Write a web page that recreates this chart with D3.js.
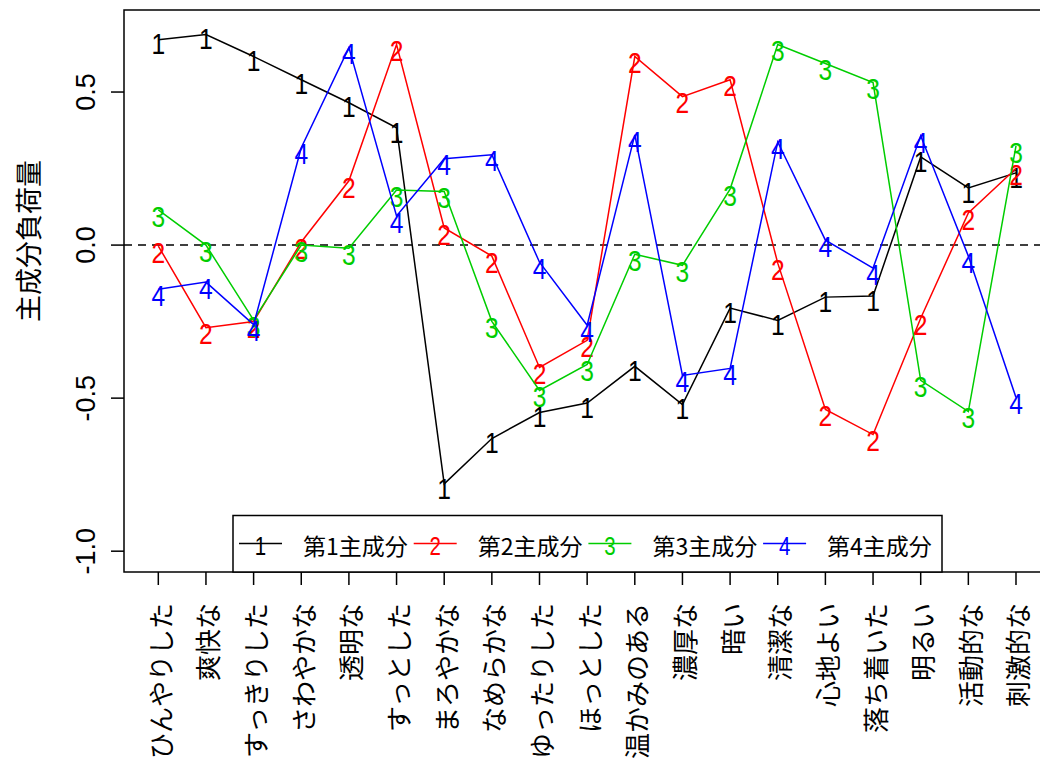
<!DOCTYPE html>
<html><head><meta charset="utf-8">
<script src="https://cdn.jsdelivr.net/npm/d3@7"></script>
<style>html,body{margin:0;padding:0;background:#fff;}svg{display:block;}</style>
</head><body>
<script>
const categories = ["ひんやりした","爽快な","すっきりした","さわやかな","透明な","すっとした","まろやかな","なめらかな","ゆったりした","ほっとした","温かみのある","濃厚な","暗い","清潔な","心地よい","落ち着いた","明るい","活動的な","刺激的な"];
const pc1 = [0.671,0.688,0.616,0.540,0.465,0.383,-0.780,-0.632,-0.547,-0.516,-0.396,-0.521,-0.206,-0.246,-0.170,-0.166,0.288,0.187,0.236];
const pc2 = [-0.003,-0.27,-0.25,0.01,0.21,0.655,0.056,-0.036,-0.40,-0.311,0.616,0.485,0.540,-0.059,-0.537,-0.619,-0.239,0.105,0.25];
const pc3 = [0.115,0.0,-0.245,0.0,-0.01,0.18,0.175,-0.249,-0.475,-0.39,-0.03,-0.066,0.183,0.655,0.593,0.531,-0.442,-0.544,0.324];
const pc4 = [-0.144,-0.121,-0.26,0.318,0.645,0.095,0.282,0.295,-0.056,-0.262,0.36,-0.426,-0.403,0.337,0.016,-0.075,0.357,-0.036,-0.498];
const seriesNames = ["第1主成分","第2主成分","第3主成分","第4主成分"];
const seriesSymbols = ["1","2","3","4"];
const seriesColors = ["#000000","#FF0000","#00CD00","#0000FF"];
const yTicks = [-1.0,-0.5,0.0,0.5];
const yTickLabels = ["-1.0","-0.5","0.0","0.5"];
const yTitle = "主成分負荷量";

(function () {
const W = 1040, H = 762;
const pL = 124, pT = 10, pB = 572, pR = 1050.3;
const svg = d3.select("body").append("svg").attr("width", W).attr("height", H);

const n = categories.length;
const xPad = (n - 1) * 0.04;
const x = d3.scaleLinear().domain([1 - xPad, n + xPad]).range([pL, pR]);
const yMin = -1.0, yMax = 0.7, yPad = (yMax - yMin) * 0.04;
const y = d3.scaleLinear().domain([yMin - yPad, yMax + yPad]).range([pB, pT]);

const CJK = "'Noto Sans CJK JP', 'Noto Sans CJK SC', sans-serif";
const LAT = "'Liberation Sans', Arial, sans-serif";

svg.append("line").attr("x1", pL).attr("x2", pR).attr("y1", y(0)).attr("y2", y(0))
  .attr("stroke", "#000").attr("stroke-width", 1.5).attr("stroke-dasharray", "8,6");

const allSeries = [pc1, pc2, pc3, pc4];
const line = d3.line().x((d, i) => x(i + 1)).y(d => y(d));
allSeries.forEach((vals, s) => {
  const g = svg.append("g");
  g.append("path").attr("d", line(vals)).attr("fill", "none")
    .attr("stroke", seriesColors[s]).attr("stroke-width", 1.5);
  const off = s === 0 ? 14.7 : 16.7;
  g.selectAll("text").data(vals).enter().append("text")
    .attr("transform", (d, i) => `translate(${x(i + 1)},${y(d) + off}) scale(0.82,1)`)
    .attr("text-anchor", "middle")
    .attr("font-family", LAT).attr("font-size", 30)
    .attr("fill", seriesColors[s]).text(seriesSymbols[s]);
});

svg.append("rect").attr("x", pL).attr("y", pT).attr("width", pR - pL).attr("height", pB - pT)
  .attr("fill", "none").attr("stroke", "#000").attr("stroke-width", 1.5);

const xa = svg.append("g");
categories.forEach((c, i) => {
  xa.append("line").attr("x1", x(i + 1)).attr("x2", x(i + 1)).attr("y1", pB).attr("y2", pB + 13)
    .attr("stroke", "#000").attr("stroke-width", 1.5);
  xa.append("text").attr("transform", `translate(${x(i + 1) + 1},603) rotate(-90)`)
    .attr("text-anchor", "end").attr("dominant-baseline", "central")
    .attr("font-family", CJK).attr("font-size", 26).attr("fill", "#000").text(c);
});

const ya = svg.append("g");
yTicks.forEach((t, i) => {
  ya.append("line").attr("x1", pL).attr("x2", pL - 13).attr("y1", y(t)).attr("y2", y(t))
    .attr("stroke", "#000").attr("stroke-width", 1.5);
  ya.append("text").attr("transform", `translate(86,${y(t)}) rotate(-90)`)
    .attr("text-anchor", "middle").attr("dominant-baseline", "central")
    .attr("font-family", LAT).attr("font-size", 27).attr("fill", "#000").text(yTickLabels[i]);
});
svg.append("text").attr("transform", `translate(27,${y(0) - 4}) rotate(-90)`)
  .attr("text-anchor", "middle").attr("dominant-baseline", "central")
  .attr("font-family", CJK).attr("font-size", 27).attr("fill", "#000").text(yTitle);

const lg = svg.append("g");
lg.append("rect").attr("x", 233).attr("y", 515.5).attr("width", 709).attr("height", pB - 515.5)
  .attr("fill", "#fff").attr("stroke", "#000").attr("stroke-width", 1.5);
seriesNames.forEach((name, s) => {
  const x0 = 239 + s * 174.7;
  lg.append("line").attr("x1", x0).attr("x2", x0 + 43).attr("y1", 543.5).attr("y2", 543.5)
    .attr("stroke", seriesColors[s]).attr("stroke-width", 1.5);
  lg.append("text").attr("transform", `translate(${x0 + 21.5},555) scale(0.82,1)`)
    .attr("text-anchor", "middle").attr("font-family", LAT).attr("font-size", 25)
    .attr("fill", seriesColors[s]).text(seriesSymbols[s]);
  lg.append("text").attr("x", x0 + 64).attr("y", 545).attr("dominant-baseline", "central")
    .attr("font-family", CJK).attr("font-size", 23).attr("fill", "#000").text(name);
});
})();
</script>
</body></html>
